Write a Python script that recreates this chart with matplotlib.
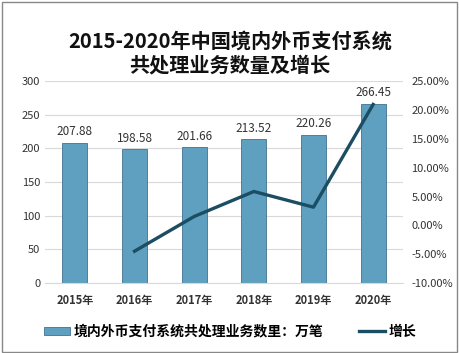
import matplotlib.pyplot as plt
import numpy as np
from matplotlib.patches import Rectangle

plt.rcParams['font.family'] = ['Noto Sans CJK SC', 'DejaVu Sans']

years = ["2015年", "2016年", "2017年", "2018年", "2019年", "2020年"]
volume = [207.88, 198.58, 201.66, 213.52, 220.26, 266.45]
growth = [None, -4.47, 1.55, 5.88, 3.16, 20.97]

fig = plt.figure(figsize=(4.6, 3.53), dpi=100)
ax = fig.add_axes([0.098, 0.198, 0.778, 0.572])
ax2 = ax.twinx()

x = np.arange(len(years))
ax.bar(x, volume, width=0.42, color="#5f9fbf", edgecolor="#3f7390",
       linewidth=0.6, zorder=2, label="境内外币支付系统共处理业务数里：万笔")
for xi, v in zip(x, volume):
    ax.text(xi, v + 7, f"{v:.2f}", ha="center", va="bottom", fontsize=8.5,
            color="#333333")

gx = [xi for xi, g in zip(x, growth) if g is not None]
gy = [g for g in growth if g is not None]
ax2.plot(gx, gy, color="#1b4d63", linewidth=2.4, label="增长", zorder=3)

ax.set_xlim(-0.5, len(years) - 0.5)
ax.set_ylim(0, 300)
ax.set_yticks(range(0, 301, 50))
ax2.set_ylim(-10, 25)
ax2.set_yticks(range(-10, 26, 5))
ax2.set_yticklabels([f"{t:.2f}%" for t in range(-10, 26, 5)])

ax.set_xticks(x)
ax.set_xticklabels(years, fontweight="bold", fontsize=8.5, color="#222222")
ax.grid(axis="y", color="#d9d9d9", linewidth=0.8, zorder=0)
ax.set_axisbelow(True)
for a in (ax, ax2):
    for s in a.spines.values():
        s.set_visible(False)
    a.tick_params(length=0, labelsize=8, colors="#333333")
ax.spines["bottom"].set_visible(True)
ax.spines["bottom"].set_color("#d9d9d9")
ax.tick_params(axis="x", pad=8)
ax2.tick_params(axis="y", pad=6)

fig.text(0.5, 0.85, "2015-2020年中国境内外币支付系统\n共处理业务数量及增长",
         ha="center", va="center", fontsize=14.5, fontweight="bold",
         linespacing=1.2, color="#111111")

h1, l1 = ax.get_legend_handles_labels()
h2, l2 = ax2.get_legend_handles_labels()
fig.legend(h1 + h2, l1 + l2, loc="center", bbox_to_anchor=(0.5, 0.06), ncol=2,
           frameon=False, handlelength=1.9, handleheight=0.45, handletextpad=0.2,
           columnspacing=2.6, prop={"weight": "bold", "size": 10})

fig.patches.append(Rectangle((0.004, 0.004), 0.99, 0.99, transform=fig.transFigure,
                             fill=False, edgecolor="#888888", linewidth=1))

fig.savefig("out.png", dpi=100)
